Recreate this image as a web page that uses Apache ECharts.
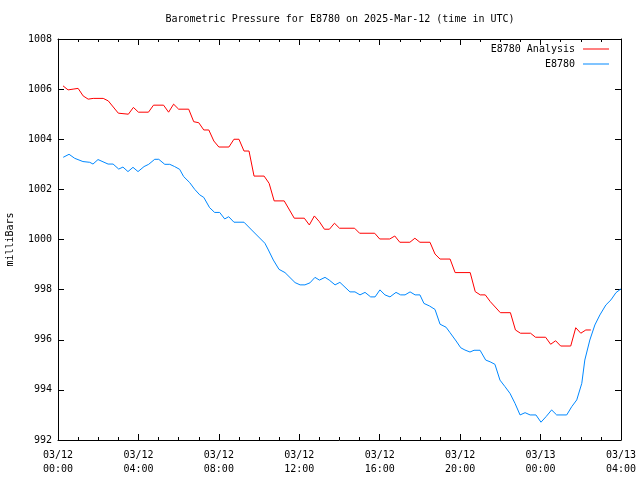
<!DOCTYPE html>
<html>
<head>
<meta charset="utf-8">
<script src="https://cdn.jsdelivr.net/npm/echarts@6/dist/echarts.min.js"></script>
<style>html,body{margin:0;padding:0;background:#fff}#c{width:640px;height:480px}</style>
</head>
<body>
<div id="c"></div>
<script>
// Hours since 2025-03-12 00:00 UTC
var analysisHours = [0.25,0.5,0.75,1.0,1.25,1.5,1.75,2.25,2.5,3.0,3.5,3.75,4.0,4.5,4.75,5.25,5.5,5.75,6.0,6.5,6.75,7.0,7.25,7.5,7.75,8.0,8.5,8.75,9.0,9.25,9.5,9.75,10.25,10.5,10.75,11.25,11.75,12.25,12.5,12.75,13.0,13.25,13.5,13.75,14.0,14.75,15.0,15.75,16.0,16.5,16.75,17.0,17.5,17.75,18.0,18.5,18.75,19.0,19.5,19.75,20.5,20.75,21.0,21.25,21.5,22.0,22.5,22.75,23.0,23.5,23.75,24.25,24.5,24.75,25.0,25.5,25.75,26.0,26.25,26.5];
var analysisValues = [1006.13,1005.97,1006.0,1006.03,1005.73,1005.6,1005.63,1005.63,1005.53,1005.04,1005.0,1005.27,1005.08,1005.08,1005.36,1005.36,1005.08,1005.4,1005.2,1005.2,1004.7,1004.66,1004.37,1004.37,1003.93,1003.69,1003.69,1004.0,1004.0,1003.53,1003.53,1002.53,1002.53,1002.24,1001.54,1001.54,1000.85,1000.85,1000.58,1000.94,1000.71,1000.41,1000.41,1000.65,1000.45,1000.45,1000.25,1000.25,1000.02,1000.02,1000.14,999.89,999.89,1000.05,999.89,999.89,999.42,999.22,999.22,998.68,998.68,997.92,997.79,997.79,997.52,997.08,997.08,996.39,996.26,996.26,996.1,996.1,995.82,995.96,995.75,995.75,996.48,996.26,996.39,996.39];

var stationHours = [0.26,0.55,0.83,1.24,1.58,1.74,1.99,2.49,2.74,3.02,3.23,3.48,3.73,3.98,4.28,4.51,4.81,5.01,5.31,5.56,5.80,6.05,6.25,6.55,6.80,7.05,7.25,7.54,7.79,8.04,8.29,8.49,8.75,9.25,9.63,10.29,10.44,10.71,10.99,11.29,11.79,12.04,12.28,12.53,12.78,13.0,13.28,13.49,13.78,14.02,14.52,14.77,15.02,15.27,15.55,15.77,16.01,16.26,16.51,16.81,17.04,17.26,17.51,17.76,18.0,18.2,18.47,18.75,19.0,19.3,19.5,19.8,20.03,20.24,20.49,20.69,20.99,21.27,21.49,21.73,21.98,22.23,22.48,22.73,22.98,23.23,23.48,23.77,24.02,24.27,24.55,24.80,25.30,25.55,25.80,26.05,26.2,26.45,26.7,26.95,27.25,27.5,27.75,28.0];
var stationValues = [1003.28,1003.40,1003.24,1003.11,1003.08,1003.01,1003.19,1003.01,1003.01,1002.81,1002.89,1002.71,1002.88,1002.71,1002.91,1003.0,1003.2,1003.2,1003.0,1003.0,1002.91,1002.8,1002.51,1002.27,1002.0,1001.78,1001.68,1001.27,1001.08,1001.08,1000.82,1000.91,1000.69,1000.69,1000.38,999.85,999.62,999.18,998.81,998.68,998.28,998.19,998.19,998.27,998.49,998.38,998.49,998.38,998.19,998.29,997.91,997.91,997.79,997.89,997.71,997.71,997.99,997.79,997.71,997.89,997.79,997.79,997.91,997.79,997.79,997.45,997.35,997.21,996.62,996.50,996.28,995.95,995.68,995.59,995.51,995.58,995.58,995.19,995.12,995.02,994.39,994.13,993.86,993.46,993.0,993.09,993.0,993.0,992.71,992.93,993.20,993.0,993.0,993.33,993.60,994.26,995.19,995.99,996.59,996.99,997.39,997.59,997.88,998.03];

var tickHours = [0,4,8,12,16,20,24,28];
var tickLabels = ['03/12\n00:00','03/12\n04:00','03/12\n08:00','03/12\n12:00','03/12\n16:00','03/12\n20:00','03/13\n00:00','03/13\n04:00'];

function zip(a, b) { return a.map(function (v, i) { return [v, b[i]]; }); }

var FONT = 'DejaVu Sans Mono';
var chart = echarts.init(document.getElementById('c'), null, {renderer: 'canvas'});
var xBase = {
  type: 'value', min: 0, max: 28, interval: 4,
  axisLine: {show: true, onZero: false, lineStyle: {color: '#000', width: 1}},
  axisTick: {show: true, inside: true, length: 6, lineStyle: {color: '#000'}},
  minorTick: {show: true, splitNumber: 4, length: 3, lineStyle: {color: '#000'}},
  splitLine: {show: false}, minorSplitLine: {show: false}
};
var yBase = {
  type: 'value', min: 992, max: 1008, interval: 2,
  axisLine: {show: true, onZero: false, lineStyle: {color: '#000', width: 1}},
  axisTick: {show: true, inside: true, length: 6, lineStyle: {color: '#000'}},
  splitLine: {show: false}
};
chart.setOption({
  animation: false,
  backgroundColor: '#fff',
  title: {
    text: 'Barometric Pressure for E8780 on 2025-Mar-12 (time in UTC)',
    left: 340, textAlign: 'center', top: 14, padding: 0,
    textStyle: {fontFamily: FONT, fontSize: 10, fontWeight: 'normal', color: '#000'}
  },
  legend: [
    {data: ['E8780 Analysis'], right: 31, top: 44, padding: 0, align: 'right', icon: 'rect',
     itemWidth: 26, itemHeight: 1, textStyle: {fontFamily: FONT, fontSize: 10, color: '#000', padding: [0, 3, 0, 0]}},
    {data: ['E8780'], right: 31, top: 59, padding: 0, align: 'right', icon: 'rect',
     itemWidth: 26, itemHeight: 1, textStyle: {fontFamily: FONT, fontSize: 10, color: '#000', padding: [0, 3, 0, 0]}}
  ],
  grid: {left: 58, right: 19, top: 39, bottom: 40, containLabel: false, outerBoundsMode: 'none'},
  xAxis: [
    Object.assign({}, xBase, {
      position: 'bottom',
      axisLabel: {show: true, margin: 8, fontFamily: FONT, fontSize: 10, color: '#000', lineHeight: 14,
        formatter: function (v) { var i = tickHours.indexOf(v); return i >= 0 ? tickLabels[i] : ''; }}
    }),
    Object.assign({}, xBase, {position: 'top', axisLabel: {show: false}})
  ],
  yAxis: [
    Object.assign({}, yBase, {
      position: 'left',
      name: 'milliBars', nameLocation: 'middle', nameGap: 43, nameRotate: 90,
      nameTextStyle: {fontFamily: FONT, fontSize: 10, color: '#000'},
      axisLabel: {show: true, margin: 6, fontFamily: FONT, fontSize: 10, color: '#000',
        formatter: function (v) { return String(v); }}
    }),
    Object.assign({}, yBase, {position: 'right', axisLabel: {show: false}})
  ],
  series: [
    {name: 'E8780 Analysis', type: 'line', xAxisIndex: 0, yAxisIndex: 0, data: zip(analysisHours, analysisValues),
     showSymbol: false, symbol: 'none', lineStyle: {color: '#ff0000', width: 1}, itemStyle: {color: '#ff0000'}},
    {name: 'E8780', type: 'line', xAxisIndex: 0, yAxisIndex: 0, data: zip(stationHours, stationValues),
     showSymbol: false, symbol: 'none', lineStyle: {color: '#0088ff', width: 1}, itemStyle: {color: '#0088ff'}}
  ]
});
</script>
</body>
</html>
